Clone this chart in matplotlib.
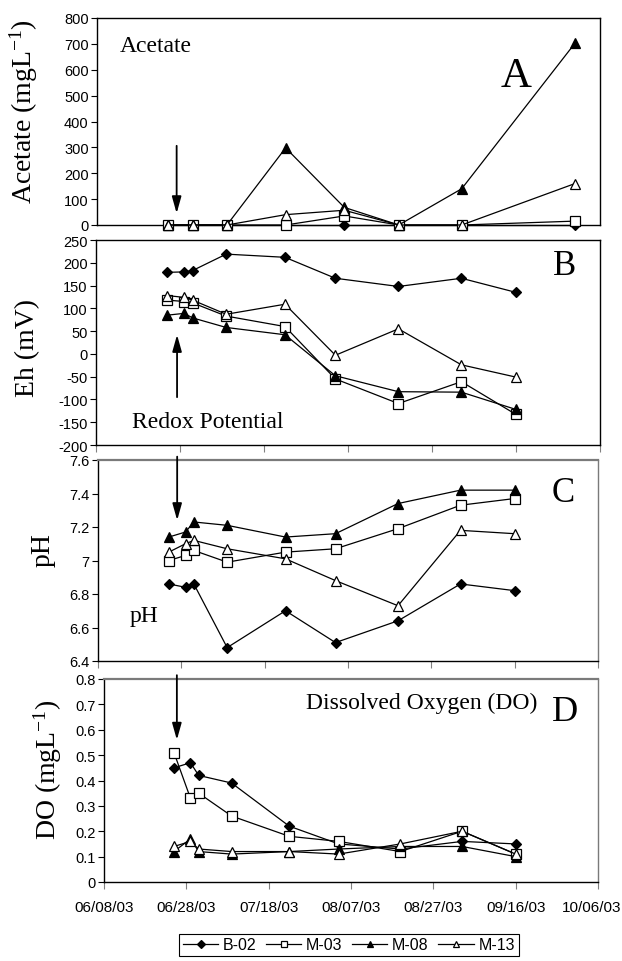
import matplotlib
matplotlib.use("Agg")
import matplotlib.pyplot as plt
import matplotlib.dates as mdates
import matplotlib.transforms as mtransforms
from matplotlib.ticker import MultipleLocator, FormatStrFormatter
import pandas as pd

plt.rcParams['axes.unicode_minus'] = False
plt.rcParams['mathtext.default'] = 'regular'

SERIF = 'Liberation Serif'
SANS = 'Liberation Sans'

# sampling dates
dates = pd.to_datetime(['2003-06-25', '2003-06-29', '2003-07-01', '2003-07-09', '2003-07-23',
                        '2003-08-04', '2003-08-19', '2003-09-03', '2003-09-16'])
acetate_dates = pd.to_datetime(['2003-06-25', '2003-07-01', '2003-07-09', '2003-07-23',
                                '2003-08-06', '2003-08-19', '2003-09-03', '2003-09-30'])

wells = ['B-02', 'M-03', 'M-08', 'M-13']

# A: acetate (mg/L)
acetate = {
    'B-02': [0, 0, 0, 0, 0, 0, 0, 0],
    'M-03': [0, 0, 0, 0, 35, 0, 0, 15],
    'M-08': [0, 0, 0, 298, 68, 0, 140, 702],
    'M-13': [0, 0, 0, 40, 57, 0, 0, 160],
}
# B: Eh (mV)
eh = {
    'B-02': [179, 180, 183, 219, 212, 166, 148, 166, 135],
    'M-03': [118, 115, 112, 83, 60, -55, -109, -61, -133],
    'M-08': [85, 89, 79, 58, 42, -48, -83, -84, -122],
    'M-13': [128, 124, 118, 87, 109, -3, 55, -24, -51],
}
# C: pH
ph = {
    'B-02': [6.86, 6.84, 6.86, 6.48, 6.70, 6.51, 6.64, 6.86, 6.82],
    'M-03': [7.00, 7.03, 7.06, 6.99, 7.05, 7.07, 7.19, 7.33, 7.37],
    'M-08': [7.14, 7.17, 7.23, 7.21, 7.14, 7.16, 7.34, 7.42, 7.42],
    'M-13': [7.05, 7.10, 7.12, 7.07, 7.01, 6.88, 6.73, 7.18, 7.16],
}
# D: dissolved oxygen (mg/L)
do = {
    'B-02': [0.45, 0.47, 0.42, 0.39, 0.22, 0.15, 0.13, 0.16, 0.15],
    'M-03': [0.51, 0.33, 0.35, 0.26, 0.18, 0.16, 0.12, 0.20, 0.11],
    'M-08': [0.12, 0.17, 0.12, 0.11, 0.12, 0.13, 0.14, 0.14, 0.10],
    'M-13': [0.14, 0.16, 0.13, 0.12, 0.12, 0.11, 0.15, 0.20, 0.11],
}

styles = {
    'B-02': dict(marker='D', mfc='black', ms=5.5),
    'M-03': dict(marker='s', mfc='white', ms=6.5),
    'M-08': dict(marker='^', mfc='black', ms=7),
    'M-13': dict(marker='^', mfc='white', ms=7),
}

W, H = 622, 962
fig = plt.figure(figsize=(W / 100, H / 100), dpi=100)


def make_axes(left, right, top, bottom):
    return fig.add_axes([left / W, 1 - bottom / H, (right - left) / W, (bottom - top) / H])


axA = make_axes(97, 600, 19, 226)
axB = make_axes(96, 600, 241, 446)
axC = make_axes(98, 598, 461, 662)
axD = make_axes(104, 598, 680, 883)

panels = [
    (axA, acetate_dates, acetate, (0, 800), 100, 'Acetate (mgL$^{-1}$)'),
    (axB, dates, eh, (-200, 250), 50, 'Eh (mV)'),
    (axC, dates, ph, (6.4, 7.6), 0.2, 'pH'),
    (axD, dates, do, (0, 0.8), 0.1, 'DO (mgL$^{-1}$)'),
]

xmin, xmax = pd.Timestamp('2003-06-08'), pd.Timestamp('2003-10-06')
xticks = pd.date_range(xmin, xmax, freq='20D')

for ax, x, data, ylim, step, ylabel in panels:
    for w in wells:
        st = styles[w]
        ax.plot(x, data[w], color='black', lw=0.9, marker=st['marker'], ms=st['ms'],
                mfc=st['mfc'], mec='black', mew=0.9, label=w, clip_on=False, zorder=3)
    ax.set_xlim(xmin, xmax)
    ax.set_ylim(*ylim)
    ax.yaxis.set_major_locator(MultipleLocator(step))
    ax.yaxis.set_major_formatter(FormatStrFormatter('%g'))
    ax.set_xticks(xticks)
    ax.xaxis.set_major_formatter(mdates.DateFormatter('%m/%d/%y'))
    ax.tick_params(axis='y', direction='out', length=4, width=0.8, labelsize=10.5, pad=2)
    ax.tick_params(axis='x', direction='out', length=5, width=0.8, color='#808080',
                   labelsize=11, pad=8)
    for lab in ax.get_yticklabels() + ax.get_xticklabels():
        lab.set_fontfamily(SANS)
    ax.set_ylabel(ylabel, fontsize=20, fontfamily=SERIF)

axA.tick_params(axis='x', length=0, labelbottom=False)
axB.tick_params(axis='x', labelbottom=False)
axC.tick_params(axis='x', labelbottom=False)

# keep the last date label inside the figure
last = axD.get_xticklabels()[-1]
last.set_transform(last.get_transform() + mtransforms.ScaledTranslation(-6 / 100, 0, fig.dpi_scale_trans))

for ax in (axA, axB):
    for sp in ax.spines.values():
        sp.set_color('black')
        sp.set_linewidth(1.0)
for ax in (axC, axD):
    for name, sp in ax.spines.items():
        sp.set_color('#7a7a7a' if name in ('top', 'right') else 'black')
        sp.set_linewidth(1.6 if name == 'top' else 1.0)

# y label positions (right edge / vertical centre, pixels in the figure)
for ax, xpx, ypx in [(axA, 40, 112), (axB, 40, 348), (axC, 56, 550), (axD, 64, 770)]:
    ax.yaxis.set_label_coords(xpx / W, 1 - ypx / H, transform=fig.transFigure)

# panel letters and captions
axA.text(0.046, 0.865, 'Acetate', transform=axA.transAxes, fontsize=17, fontfamily=SERIF, va='center')
axA.text(0.833, 0.72, 'A', transform=axA.transAxes, fontsize=31, fontfamily=SERIF, ha='center', va='center')
axB.text(0.929, 0.878, 'B', transform=axB.transAxes, fontsize=25, fontfamily=SERIF, ha='center', va='center')
axB.text(0.071, 0.117, 'Redox Potential', transform=axB.transAxes, fontsize=17, fontfamily=SERIF, va='center')
axC.text(0.93, 0.836, 'C', transform=axC.transAxes, fontsize=25, fontfamily=SERIF, ha='center', va='center')
axC.text(0.064, 0.224, 'pH', transform=axC.transAxes, fontsize=17, fontfamily=SERIF, va='center')
axD.text(0.933, 0.842, 'D', transform=axD.transAxes, fontsize=26, fontfamily=SERIF, ha='center', va='center')
axD.text(0.409, 0.887, 'Dissolved Oxygen (DO)', transform=axD.transAxes, fontsize=17, fontfamily=SERIF, va='center')

# injection arrows
arrow = dict(arrowstyle='-|>,head_length=1.0,head_width=0.28', color='black', lw=1.3, shrinkA=0, shrinkB=0)
t0 = pd.Timestamp('2003-06-08')
axA.annotate('', xy=(t0 + pd.Timedelta(days=19), 45), xytext=(t0 + pd.Timedelta(days=19), 306),
             arrowprops=arrow, annotation_clip=False)
axB.annotate('', xy=(t0 + pd.Timedelta(days=19.3), 42), xytext=(t0 + pd.Timedelta(days=19.3), -95),
             arrowprops=arrow, annotation_clip=False)
axC.annotate('', xy=(t0 + pd.Timedelta(days=19), 7.24), xytext=(t0 + pd.Timedelta(days=19), 7.62),
             arrowprops=arrow, annotation_clip=False)
axD.annotate('', xy=(t0 + pd.Timedelta(days=17.7), 0.56), xytext=(t0 + pd.Timedelta(days=17.7), 0.815),
             arrowprops=arrow, annotation_clip=False)

handles, labels = axD.get_legend_handles_labels()
leg = fig.legend(handles, labels, ncol=4, loc='center', bbox_to_anchor=(349 / W, 1 - 946 / H),
                 fancybox=False, edgecolor='black', framealpha=1, markerscale=0.7,
                 prop={'family': SANS, 'size': 11.5}, handlelength=2.2, handletextpad=0.3,
                 columnspacing=0.6, borderpad=0.25)
leg.get_frame().set_linewidth(0.8)

fig.savefig('out.png', dpi=100)
